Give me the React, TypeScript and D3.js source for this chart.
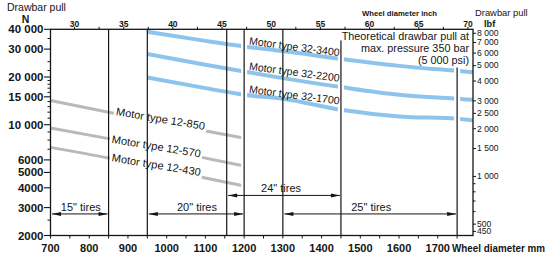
import React from 'react';
import * as d3 from 'd3';

// ---------- data ----------
const mmTicks = [700, 800, 900, 1000, 1100, 1200, 1300, 1400, 1500, 1600, 1700];
const mmMinorTicks = [750, 850, 950, 1050, 1150, 1250, 1350, 1450, 1550, 1650, 1750];
const inchTicks = [30, 35, 40, 45, 50, 55, 60, 65, 70];
const inchMinorTicks = [32.5, 37.5, 42.5, 47.5, 52.5, 57.5, 62.5, 67.5];

const leftTicks = [40000, 30000, 20000, 15000, 10000, 6000, 5000, 4000, 3000, 2000];
const leftTickLabels = ['40 000', '30 000', '20 000', '15 000', '10 000', '6000', '5000', '4000', '3000', '2000'];
const leftMinorTicks = [35000, 25000, 22000, 19000, 18000, 17000, 16000, 14000, 13000, 12000, 11000, 9000, 8000, 7000, 2500];

const rightTicks = [8000, 7000, 6000, 5000, 4000, 3000, 2500, 2000, 1500, 1000, 500, 450];
const rightTickLabels = ['8 000', '7 000', '6 000', '5 000', '4 000', '3 000', '2 500', '2 000', '1 500', '1 000', '500', '450'];
const rightMinorTicks = [900, 800, 700, 600];

const blueMM = [950, 1100, 1200, 1300, 1450, 1600, 1750, 1791];
const motor32_3400 = [38640, 33810, 31180, 29210, 26020, 23510, 21870, 21460];
const motor32_2200 = [27970, 23920, 21650, 19680, 17280, 15450, 14580, 14370];
const motor32_1700 = [19850, 17020, 15450, 14580, 12430, 11280, 10910, 10650];
const blueNames = ['Motor type 32-3400', 'Motor type 32-2200', 'Motor type 32-1700'];

const grayMM = [700, 850, 950, 1050, 1200];
const motor12_850 = [14220, 11990, 10760, 9650, 8230];
const motor12_570 = [9540, 8170, 7330, 6525, 5485];
const motor12_430 = [7200, 6160, 5485, 4885, 4107];
const grayNames = ['Motor type 12-850', 'Motor type 12-570', 'Motor type 12-430'];

// vertical tire-range rules (mm) and the pull (N) at which each starts
const ruleMM = [850, 950, 1155, 1200, 1300, 1450, 1750];
const ruleTopN = [40000, 40000, 40000, 40000, 40000, 34000, 23000];
const ruleGapBottomN = [0, 0, 0, 3900, 0, 9000, 9000];

const tireLabels = ['15" tires', '20" tires', '24" tires', '25" tires'];
const tireFrom = [700, 950, 1155, 1300];
const tireTo = [850, 1200, 1450, 1750];
const tireLevelN = [2736, 2736, 3580, 2736];

const noteLines = ['Theoretical drawbar pull at', 'max. pressure 350 bar', '(5 000 psi)'];

// ---------- layout ----------
const W = 550;
const H = 257;
const FONT = '"Liberation Sans", Arial, Helvetica, sans-serif';
const BLUE = '#8ec4ec';
const GRAY = '#b9b9b9';
const INK = '#151515';

export default function App() {
  const x = d3.scaleLinear().domain([700, 1791]).range([50.5, 473]);
  const y = d3.scaleLog().domain([2000, 40000]).range([235.5, 29.3]);
  const yR = d3.scaleLog().domain([424, 8480]).range([235.5, 29.3]);
  const left = x.range()[0];
  const right = x.range()[1];
  const top = y.range()[1];
  const bottom = y.range()[0];

  const line = d3
    .line<[number, number]>()
    .x((d) => x(d[0]))
    .y((d) => y(d[1]))
    .curve(d3.curveMonotoneX);

  const blueSeries = [motor32_3400, motor32_2200, motor32_1700];
  const graySeries = [motor12_850, motor12_570, motor12_430];

  const interp = (mmArr: number[], vals: number[], mm: number) => {
    const yy = mmArr.map((m, i) => y(vals[i]));
    const f = d3.scaleLinear().domain(mmArr).range(yy);
    return f(mm);
  };

  const grayLabelMM = [868, 857, 857];
  const grayLabelDy = [1.5, 3.5, 2.5];
  const grayLabelW = 90;
  const blueLabelMM = 1212;

  return (
    <svg
      width={W}
      height={H}
      style={{ position: 'absolute', left: 0, top: 0, background: '#fff' }}
      fontFamily={FONT}
    >
      <rect x={0} y={0} width={W} height={H} fill="#fff" />

      {/* curves */}
      {graySeries.map((s, i) => (
        <path
          key={'g' + i}
          d={line(grayMM.map((m, j) => [m, s[j]] as [number, number])) || ''}
          fill="none"
          stroke={GRAY}
          strokeWidth={3}
        />
      ))}
      {blueSeries.map((s, i) => (
        <path
          key={'b' + i}
          d={line(blueMM.map((m, j) => [m, s[j]] as [number, number])) || ''}
          fill="none"
          stroke={BLUE}
          strokeWidth={4}
        />
      ))}

      {/* white gaps around some rules */}
      {ruleMM.map((m, i) =>
        ruleGapBottomN[i] > 0 ? (
          <line
            key={'gap' + i}
            x1={x(m)}
            x2={x(m)}
            y1={y(ruleTopN[i])}
            y2={y(ruleGapBottomN[i])}
            stroke="#fff"
            strokeWidth={6}
          />
        ) : null
      )}

      {/* gray curve labels (knock out the line beneath) */}
      {grayNames.map((t, i) => {
        const lx = x(grayLabelMM[i]);
        const ly = interp(grayMM, graySeries[i], grayLabelMM[i]) + grayLabelDy[i];
        return (
          <g key={'gl' + i} transform={`rotate(9.5 ${lx} ${ly})`}>
            <rect x={lx - 2} y={ly - 9.5} width={grayLabelW + 4} height={12} fill="#fff" />
            <text x={lx} y={ly} fontSize={10.8} fill={INK} textLength={grayLabelW} lengthAdjust="spacingAndGlyphs">
              {t}
            </text>
          </g>
        );
      })}

      {/* rules */}
      {ruleMM.map((m, i) => (
        <line
          key={'r' + i}
          x1={x(m)}
          x2={x(m)}
          y1={y(ruleTopN[i])}
          y2={bottom}
          stroke={INK}
          strokeWidth={1.2}
        />
      ))}

      {blueNames.map((t, i) => {
        const lx = x(blueLabelMM);
        const ly = interp(blueMM, blueSeries[i], blueLabelMM) - 2.5;
        return (
          <text
            key={'bl' + i}
            x={lx}
            y={ly}
            transform={`rotate(7.5 ${lx} ${ly})`}
            fontSize={10.8}
            fill={INK}
            textLength={91}
            lengthAdjust="spacingAndGlyphs"
          >
            {t}
          </text>
        );
      })}

      {/* tire ranges */}
      {tireLabels.map((t, i) => {
        const x1 = x(tireFrom[i]) + 1.5;
        const x2 = x(tireTo[i]) - 1;
        const ly = y(tireLevelN[i]);
        const ah = 9;
        const aw = 2;
        return (
          <g key={'t' + i}>
            <line x1={x1} x2={x2} y1={ly} y2={ly} stroke={INK} strokeWidth={1} />
            <polygon points={`${x1},${ly} ${x1 + ah},${ly - aw} ${x1 + ah},${ly + aw}`} fill={INK} />
            <polygon points={`${x2},${ly} ${x2 - ah},${ly - aw} ${x2 - ah},${ly + aw}`} fill={INK} />
            <text
              x={(x1 + x2) / 2 + (i === 2 ? -3 : 1)}
              y={ly - 3}
              textAnchor="middle"
              fontSize={11}
              fill={INK}
            >
              {t}
            </text>
          </g>
        );
      })}

      {/* note */}
      {noteLines.map((t, i) => (
        <text key={'n' + i} x={right - 4} y={40 + i * 12} textAnchor="end" fontSize={10.8} fill={INK}>
          {t}
        </text>
      ))}

      {/* frame */}
      <rect x={left} y={top} width={right - left} height={bottom - top} fill="none" stroke={INK} strokeWidth={1.3} />

      {/* left axis */}
      {leftTicks.map((v, i) => (
        <g key={'lt' + i}>
          <line x1={left - 6.5} x2={left} y1={y(v)} y2={y(v)} stroke={INK} strokeWidth={1.1} />
          <text x={left - 7} y={y(v)} dy="0.35em" textAnchor="end" fontSize={11.5} fontWeight="bold" fill={INK}>
            {leftTickLabels[i]}
          </text>
        </g>
      ))}
      {leftMinorTicks.map((v, i) => (
        <line key={'lm' + i} x1={left - 3} x2={left} y1={y(v)} y2={y(v)} stroke={INK} strokeWidth={1} />
      ))}

      {/* right axis */}
      {rightTicks.map((v, i) => (
        <g key={'rt' + i}>
          <line x1={right} x2={right + 3} y1={yR(v)} y2={yR(v)} stroke={INK} strokeWidth={1} />
          <text x={right + 4} y={yR(v)} dy="0.33em" fontSize={8.6} fill={INK}>
            {rightTickLabels[i]}
          </text>
        </g>
      ))}
      {rightMinorTicks.map((v, i) => (
        <line key={'rm' + i} x1={right} x2={right + 2.5} y1={yR(v)} y2={yR(v)} stroke={INK} strokeWidth={1} />
      ))}

      {/* bottom axis */}
      {mmTicks.map((v, i) => (
        <g key={'bt' + i}>
          <line x1={x(v)} x2={x(v)} y1={bottom} y2={bottom + 3} stroke={INK} strokeWidth={1} />
          <text x={x(v)} y={252} textAnchor="middle" fontSize={11} fontWeight="bold" fill={INK}>
            {v}
          </text>
        </g>
      ))}
      {mmMinorTicks.map((v, i) => (
        <line key={'bm' + i} x1={x(v)} x2={x(v)} y1={bottom} y2={bottom + 3} stroke={INK} strokeWidth={1} />
      ))}
      <text x={452} y={252} fontSize={10.5} fontWeight="bold" fill={INK} textLength={93} lengthAdjust="spacingAndGlyphs">
        Wheel diameter mm
      </text>

      {/* top axis (inches) */}
      {inchTicks.map((v, i) => (
        <g key={'it' + i}>
          <line x1={x(v * 25.4)} x2={x(v * 25.4)} y1={top} y2={top - 2.5} stroke={INK} strokeWidth={1} />
          <text x={x(v * 25.4)} y={26.5} textAnchor="middle" fontSize={8.5} fontWeight="bold" fill={INK}>
            {v}
          </text>
        </g>
      ))}
      {inchMinorTicks.map((v, i) => (
        <line key={'im' + i} x1={x(v * 25.4)} x2={x(v * 25.4)} y1={top} y2={top - 2.5} stroke={INK} strokeWidth={1} />
      ))}
      <text x={362} y={15.5} fontSize={8} fontWeight="bold" fill={INK} textLength={75} lengthAdjust="spacingAndGlyphs">
        Wheel diameter inch
      </text>

      {/* axis titles */}
      <text x={7} y={10.5} fontSize={10.5} fill={INK}>
        Drawbar pull
      </text>
      <text x={25.5} y={22.5} textAnchor="middle" fontSize={10.5} fontWeight="bold" fill={INK}>
        N
      </text>
      <text x={475} y={15.5} fontSize={9.4} fill={INK}>
        Drawbar pull
      </text>
      <text x={484} y={26.8} fontSize={9.2} fontWeight="bold" fill={INK}>
        lbf
      </text>
    </svg>
  );
}
